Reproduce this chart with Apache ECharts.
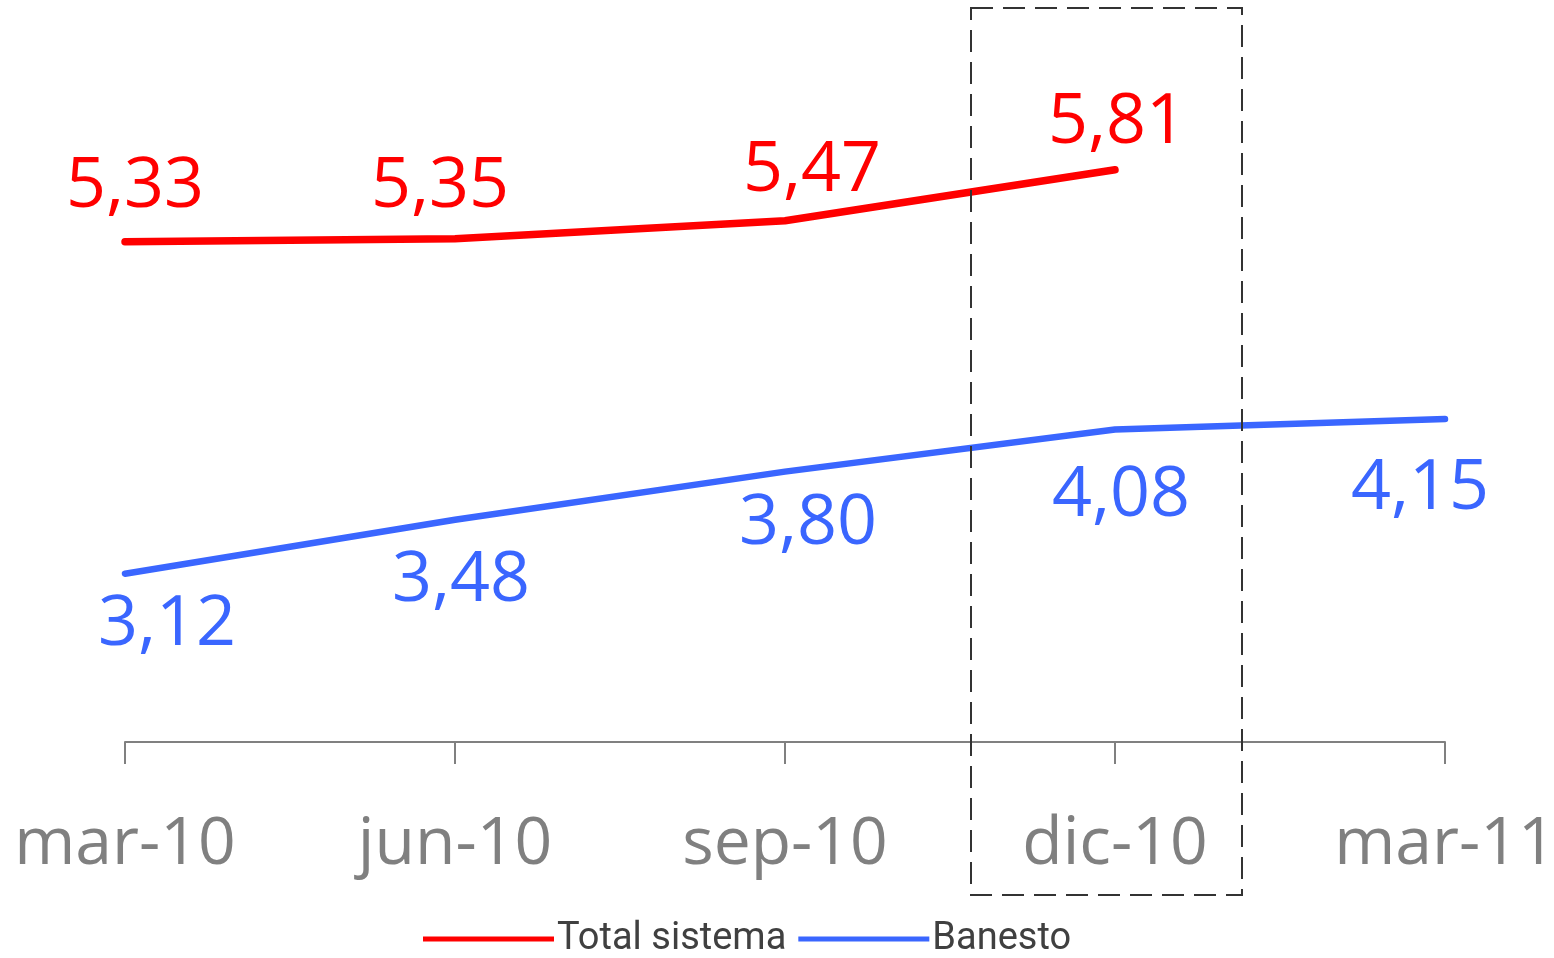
<!DOCTYPE html>
<html>
<head>
    <meta charset="utf-8">
    <title>Total sistema vs Banesto</title>
    <script src="https://cdn.jsdelivr.net/npm/echarts@6/dist/echarts.min.js"></script>
</head>
<body style="margin:0;background:#fff;">
<div id="main" style="width:1554px;height:958px;"></div>

<script type="text/javascript">
    // datos
    var categorias = ['mar-10', 'jun-10', 'sep-10', 'dic-10', 'mar-11'];
    var totalSistema = [5.33, 5.35, 5.47, 5.81, null];
    var banesto = [3.12, 3.48, 3.80, 4.08, 4.15];

    // desplazamiento de etiquetas respecto al punto
    var offsetRojo = [[10, -55], [-15, -52], [27, -50], [2, -47], [0, 0]];
    var offsetAzul = [[42, 51], [6, 61], [23, 52], [6, 66], [-25, 70]];

    var ROJO = '#ff0000';
    var AZUL = '#3a66ff';

    function conEtiquetas(valores, offsets) {
        return valores.map(function (v, i) {
            if (v === null) return '-';
            return { value: v, label: { offset: offsets[i] } };
        });
    }

    function fmt(p) {
        return p.value.toFixed(2).replace('.', ',');
    }

    var chart = echarts.init(document.getElementById('main'));

    var option = {
        backgroundColor: '#ffffff',
        animation: false,
        grid: { left: 125, right: 109, top: 21, bottom: 216, outerBoundsMode: 'none', containLabel: false },
        legend: {
            data: ['Total sistema', 'Banesto'],
            left: 418,
            top: 915,
            icon: 'rect',
            itemWidth: 131,
            itemHeight: 5,
            itemGap: 12,
            textStyle: {
                color: '#404040',
                fontSize: 38,
                fontFamily: 'Roboto',
                padding: [0, 0, 0, -2]
            }
        },
        xAxis: {
            type: 'category',
            data: categorias,
            boundaryGap: false,
            axisLine: { lineStyle: { color: '#808080', width: 2 } },
            axisTick: { show: true, alignWithLabel: true, length: 22, lineStyle: { color: '#808080', width: 2 } },
            axisLabel: {
                color: '#808080',
                fontSize: 66,
                fontFamily: 'Open Sans',
                margin: 70,
                interval: 0
            }
        },
        yAxis: {
            type: 'value',
            min: 2,
            max: 6.8,
            show: false,
            splitLine: { show: false }
        },
        graphic: [{
            type: 'rect',
            shape: { x: 971, y: 8, width: 271, height: 887 },
            style: { fill: 'none', stroke: '#333333', lineWidth: 2, lineDash: [22, 10] },
            z: 10
        }],
        series: [
            {
                name: 'Total sistema',
                type: 'line',
                data: conEtiquetas(totalSistema, offsetRojo),
                color: ROJO,
                symbol: 'circle',
                symbolSize: 2,
                lineStyle: { color: ROJO, width: 7.5, cap: 'round', join: 'round' },
                label: {
                    show: true,
                    position: 'inside',
                    color: ROJO,
                    fontSize: 70,
                    fontFamily: 'Open Sans',
                    formatter: fmt
                }
            },
            {
                name: 'Banesto',
                type: 'line',
                data: conEtiquetas(banesto, offsetAzul),
                color: AZUL,
                symbol: 'circle',
                symbolSize: 2,
                lineStyle: { color: AZUL, width: 6.5, cap: 'round', join: 'round' },
                label: {
                    show: true,
                    position: 'inside',
                    color: AZUL,
                    fontSize: 70,
                    fontFamily: 'Open Sans',
                    formatter: fmt
                }
            }
        ]
    };

    chart.setOption(option);
</script>
</body>
</html>
